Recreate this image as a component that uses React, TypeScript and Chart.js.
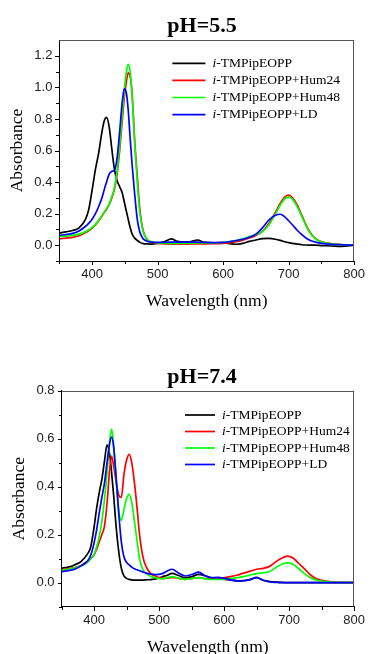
import React, { useEffect, useRef } from 'react';
import { Chart, registerables } from 'chart.js';

Chart.register(...registerables);

// ---------- shared ----------
const seriesLabels = ['i-TMPipEOPP', 'i-TMPipEOPP+Hum24', 'i-TMPipEOPP+Hum48', 'i-TMPipEOPP+LD'];
const seriesColors = ['#000000', '#ff0000', '#00ff00', '#0000ff'];
const xTickValues = [400, 500, 600, 700, 800];
const xMinorTickValues = [350, 450, 550, 650, 750];
const xTitle = 'Wavelength (nm)';
const yTitle = 'Absorbance';

// ---------- panel A : pH 5.5 ----------
const titleA = 'pH=5.5';
const wavelengthA = [350, 360, 370, 380, 390, 395, 400, 405, 410, 415, 419, 422, 426, 430, 434, 438, 442, 446, 449, 452, 455, 458, 461, 465, 469, 473, 478, 484, 490, 500, 510, 521, 530, 541, 550, 561, 571, 585, 600, 620, 630, 640, 650, 660, 670, 680, 687, 694, 700, 706, 713, 720, 730, 740, 750, 765, 780, 800];
const blackA = [0.078, 0.085, 0.093, 0.11, 0.165, 0.23, 0.35, 0.48, 0.585, 0.72, 0.795, 0.81, 0.75, 0.61, 0.48, 0.41, 0.37, 0.33, 0.275, 0.22, 0.165, 0.112, 0.072, 0.045, 0.03, 0.018, 0.01, 0.008, 0.007, 0.012, 0.022, 0.04, 0.025, 0.02, 0.022, 0.033, 0.018, 0.015, 0.015, 0.006, 0.012, 0.024, 0.033, 0.042, 0.043, 0.038, 0.031, 0.022, 0.016, 0.012, 0.007, 0.003, 0.001, 0, -0.002, -0.005, -0.008, 0];
const redA = [0.04, 0.045, 0.05, 0.06, 0.08, 0.093, 0.108, 0.128, 0.155, 0.185, 0.21, 0.228, 0.258, 0.3, 0.355, 0.45, 0.6, 0.79, 0.93, 1.03, 1.092, 1.07, 0.96, 0.66, 0.43, 0.22, 0.09, 0.035, 0.02, 0.012, 0.008, 0.006, 0.006, 0.007, 0.008, 0.009, 0.009, 0.01, 0.012, 0.022, 0.032, 0.046, 0.062, 0.088, 0.14, 0.21, 0.265, 0.305, 0.318, 0.3, 0.255, 0.19, 0.1, 0.045, 0.022, 0.01, 0.004, 0];
const greenA = [0.055, 0.058, 0.062, 0.07, 0.086, 0.098, 0.113, 0.132, 0.158, 0.186, 0.212, 0.232, 0.262, 0.305, 0.365, 0.47, 0.63, 0.83, 0.98, 1.09, 1.145, 1.1, 0.95, 0.64, 0.39, 0.2, 0.085, 0.038, 0.022, 0.015, 0.012, 0.012, 0.012, 0.012, 0.013, 0.014, 0.014, 0.015, 0.018, 0.03, 0.04, 0.055, 0.066, 0.086, 0.13, 0.2, 0.253, 0.293, 0.306, 0.29, 0.245, 0.183, 0.095, 0.043, 0.02, 0.009, 0.004, 0];
const blueA = [0.063, 0.068, 0.075, 0.09, 0.12, 0.14, 0.165, 0.2, 0.245, 0.3, 0.36, 0.4, 0.45, 0.468, 0.475, 0.55, 0.72, 0.91, 0.99, 0.97, 0.86, 0.68, 0.51, 0.32, 0.16, 0.08, 0.04, 0.025, 0.02, 0.018, 0.018, 0.02, 0.02, 0.02, 0.02, 0.02, 0.018, 0.017, 0.018, 0.03, 0.038, 0.05, 0.07, 0.11, 0.16, 0.19, 0.196, 0.18, 0.155, 0.128, 0.095, 0.068, 0.036, 0.02, 0.012, 0.006, 0.003, 0];
const yTickValuesA = [0, 0.2, 0.4, 0.6, 0.8, 1.0, 1.2];
const yMinorTickValuesA = [-0.1, 0.1, 0.3, 0.5, 0.7, 0.9, 1.1];

// ---------- panel B : pH 7.4 ----------
const titleB = 'pH=7.4';
const wavelengthB = [350, 360, 370, 380, 390, 395, 400, 404, 408, 412, 416, 420, 424, 427, 430, 434, 438, 442, 446, 450, 454, 458, 462, 466, 470, 475, 480, 487, 495, 505, 512, 520, 530, 540, 550, 561, 570, 580, 590, 601, 610, 621, 630, 640, 650, 660, 670, 682, 690, 698, 706, 715, 724, 733, 742, 750, 765, 780, 800];
const blackB = [0.06, 0.065, 0.074, 0.088, 0.12, 0.15, 0.23, 0.31, 0.375, 0.43, 0.505, 0.574, 0.535, 0.46, 0.37, 0.233, 0.13, 0.06, 0.028, 0.018, 0.014, 0.012, 0.011, 0.011, 0.011, 0.011, 0.012, 0.013, 0.016, 0.025, 0.03, 0.039, 0.03, 0.02, 0.025, 0.035, 0.03, 0.02, 0.016, 0.014, 0.011, 0.008, 0.009, 0.013, 0.021, 0.01, 0.005, 0.002, 0.001, 0, 0, 0, 0, 0, 0, 0, 0, 0, 0];
const redB = [0.055, 0.058, 0.063, 0.072, 0.09, 0.1, 0.115, 0.14, 0.17, 0.2, 0.235, 0.33, 0.47, 0.528, 0.49, 0.42, 0.365, 0.355, 0.45, 0.51, 0.535, 0.5, 0.42, 0.317, 0.2, 0.11, 0.067, 0.039, 0.027, 0.018, 0.019, 0.022, 0.018, 0.014, 0.017, 0.021, 0.017, 0.015, 0.018, 0.021, 0.025, 0.032, 0.04, 0.048, 0.056, 0.06, 0.068, 0.092, 0.104, 0.111, 0.103, 0.08, 0.057, 0.032, 0.016, 0.01, 0.004, 0.001, 0];
const greenB = [0.052, 0.056, 0.062, 0.07, 0.085, 0.1, 0.118, 0.15, 0.19, 0.255, 0.344, 0.46, 0.59, 0.64, 0.58, 0.43, 0.3, 0.26, 0.305, 0.35, 0.368, 0.335, 0.26, 0.178, 0.1, 0.055, 0.039, 0.027, 0.02, 0.016, 0.02, 0.025, 0.019, 0.014, 0.017, 0.021, 0.017, 0.014, 0.014, 0.015, 0.017, 0.021, 0.025, 0.032, 0.038, 0.041, 0.047, 0.067, 0.078, 0.083, 0.077, 0.058, 0.037, 0.021, 0.011, 0.007, 0.003, 0.001, 0];
const blueB = [0.046, 0.05, 0.056, 0.07, 0.09, 0.115, 0.165, 0.22, 0.29, 0.355, 0.414, 0.5, 0.58, 0.607, 0.57, 0.44, 0.29, 0.17, 0.108, 0.085, 0.074, 0.065, 0.058, 0.054, 0.05, 0.045, 0.04, 0.036, 0.034, 0.038, 0.048, 0.056, 0.04, 0.028, 0.034, 0.044, 0.03, 0.021, 0.022, 0.018, 0.012, 0.007, 0.008, 0.013, 0.022, 0.01, 0.003, 0.001, 0, 0, 0, 0, 0, 0, 0, 0, 0, 0, 0];
const yTickValuesB = [0, 0.2, 0.4, 0.6, 0.8];
const yMinorTickValuesB = [-0.1, 0.1, 0.3, 0.5, 0.7];

// ---------- decoration plugin (frame, tick marks, title, legend) ----------
const decorPlugin = {
  id: 'decor',
  afterDraw(chart: any, _args: any, opts: any) {
    const { ctx, chartArea: a, scales } = chart;
    const xs = scales.x;
    const ys = scales.y;
    ctx.save();
    // top/right frame
    ctx.strokeStyle = '#555';
    ctx.lineWidth = 1;
    ctx.beginPath();
    ctx.moveTo(a.left, Math.round(a.top) + 0.5);
    ctx.lineTo(a.right, Math.round(a.top) + 0.5);
    ctx.moveTo(Math.round(a.right) - 0.5, a.top);
    ctx.lineTo(Math.round(a.right) - 0.5, a.bottom);
    ctx.stroke();
    // tick marks
    ctx.strokeStyle = '#000';
    ctx.beginPath();
    const bx = Math.round(a.bottom);
    const lx = Math.round(a.left);
    xTickValues.forEach((v) => {
      const p = Math.round(xs.getPixelForValue(v)) + 0.5;
      ctx.moveTo(p, bx); ctx.lineTo(p, bx + 4);
    });
    xMinorTickValues.forEach((v) => {
      const p = Math.round(xs.getPixelForValue(v)) + 0.5;
      ctx.moveTo(p, bx); ctx.lineTo(p, bx + 3);
    });
    opts.yMajor.forEach((v: number) => {
      const p = Math.round(ys.getPixelForValue(v)) + 0.5;
      ctx.moveTo(lx, p); ctx.lineTo(lx - 4, p);
    });
    opts.yMinor.forEach((v: number) => {
      const p = Math.round(ys.getPixelForValue(v)) + 0.5;
      ctx.moveTo(lx, p); ctx.lineTo(lx - 3, p);
    });
    ctx.stroke();
    // title
    ctx.fillStyle = '#000';
    ctx.font = 'bold 22px "Liberation Serif"';
    ctx.textAlign = 'center';
    ctx.textBaseline = 'alphabetic';
    ctx.fillText(opts.title, opts.titleX, a.top - opts.titleRise);
    // legend
    ctx.textBaseline = 'middle';
    ctx.textAlign = 'left';
    const lg = opts.legend;
    seriesLabels.forEach((label, i) => {
      const yy = a.top + lg.y + i * lg.dy;
      const x0 = a.left + lg.x;
      ctx.strokeStyle = seriesColors[i];
      ctx.lineWidth = 1.7;
      ctx.beginPath();
      ctx.moveTo(x0, yy);
      ctx.lineTo(x0 + lg.len, yy);
      ctx.stroke();
      let tx = x0 + lg.len + lg.gap;
      ctx.fillStyle = '#000';
      const italic = label.slice(0, 1);
      const rest = label.slice(1);
      ctx.font = 'italic 13.5px "Liberation Serif"';
      ctx.fillText(italic, tx, yy);
      tx += ctx.measureText(italic).width;
      ctx.font = '13.5px "Liberation Serif"';
      ctx.fillText(rest, tx, yy);
    });
    ctx.restore();
  },
};

type PanelProps = {
  top: number;
  height: number;
  title: string;
  wavelength: number[];
  series: number[][];
  yMin: number;
  yMax: number;
  yTicks: number[];
  yMinor: number[];
  padding: { top: number; right: number; bottom: number; left: number };
  yWidth: number;
  xHeight: number;
  yTitlePad: number;
  titleX: number;
  titleRise: number;
  legend: { x: number; y: number; dy: number; len: number; gap: number };
};

function Panel(p: PanelProps) {
  const ref = useRef<HTMLCanvasElement | null>(null);
  useEffect(() => {
    if (!ref.current) return;
    const datasets = p.series.map((vals, i) => ({
      label: seriesLabels[i],
      data: p.wavelength.map((w, j) => ({ x: w, y: vals[j] })),
      borderColor: seriesColors[i],
      borderWidth: 1.7,
      pointRadius: 0,
      fill: false,
      cubicInterpolationMode: 'monotone' as const,
      order: 4 - i,
    }));
    const chart = new Chart(ref.current, {
      type: 'line',
      data: { datasets },
      options: {
        animation: false,
        responsive: false,
        layout: { padding: p.padding },
        plugins: {
          legend: { display: false },
          title: { display: false },
          tooltip: { enabled: false },
          decor: {
            title: p.title,
            titleX: p.titleX,
            titleRise: p.titleRise,
            yMajor: p.yTicks,
            yMinor: p.yMinor,
            legend: p.legend,
          },
        } as any,
        scales: {
          x: {
            type: 'linear',
            min: 350,
            max: 800,
            grid: { display: false, drawTicks: false },
            border: { display: true, color: '#000', width: 1 },
            afterBuildTicks: (s: any) => { s.ticks = xTickValues.map((v) => ({ value: v })); },
            afterFit: (s: any) => { s.height = p.xHeight; },
            ticks: {
              padding: 6,
              color: '#222',
              font: { family: '"Liberation Sans"', size: 13 },
              maxRotation: 0,
              callback: (v: any) => String(v),
            },
            title: {
              display: true,
              text: xTitle,
              color: '#000',
              padding: { top: 0, bottom: 0 },
              font: { family: '"Liberation Serif"', size: 17.5 },
            },
          },
          y: {
            type: 'linear',
            min: p.yMin,
            max: p.yMax,
            grid: { display: false, drawTicks: false },
            border: { display: true, color: '#000', width: 1 },
            afterBuildTicks: (s: any) => { s.ticks = p.yTicks.map((v) => ({ value: v })); },
            afterFit: (s: any) => { s.width = p.yWidth; },
            ticks: {
              padding: 7,
              color: '#222',
              font: { family: '"Liberation Sans"', size: 13 },
              callback: (v: any) => Number(v).toFixed(1),
            },
            title: {
              display: true,
              text: yTitle,
              color: '#000',
              padding: { top: p.yTitlePad, bottom: 0 },
              font: { family: '"Liberation Serif"', size: 17.5 },
            },
          },
        },
      },
      plugins: [decorPlugin],
    });
    return () => chart.destroy();
  }, []);
  return (
    <canvas
      ref={ref}
      width={371}
      height={p.height}
      style={{ position: 'absolute', left: 0, top: p.top, width: 371, height: p.height }}
    />
  );
}

export default function App() {
  return (
    <div style={{ position: 'fixed', left: 0, top: 0, width: 371, height: 654, overflow: 'hidden', background: '#fff' }}>
      <Panel
        top={0}
        height={330}
        title={titleA}
        wavelength={wavelengthA}
        series={[blackA, redA, greenA, blueA]}
        yMin={-0.1}
        yMax={1.3}
        yTicks={yTickValuesA}
        yMinor={yMinorTickValuesA}
        padding={{ top: 40, right: 11.7, bottom: 17.8, left: 0 }}
        yWidth={59.4}
        xHeight={51.2}
        yTitlePad={7}
        titleX={202}
        titleRise={8.3}
        legend={{ x: 113, y: 23.3, dy: 17.1, len: 33, gap: 7 }}
      />
      <Panel
        top={327}
        height={333}
        title={titleB}
        wavelength={wavelengthB}
        series={[blackB, redB, greenB, blueB]}
        yMin={-0.1}
        yMax={0.8}
        yTicks={yTickValuesB}
        yMinor={yMinorTickValuesB}
        padding={{ top: 63.7, right: 14, bottom: 1.8, left: 0 }}
        yWidth={61.5}
        xHeight={51.5}
        yTitlePad={8.5}
        titleX={202}
        titleRise={7.4}
        legend={{ x: 123.5, y: 24.3, dy: 16.5, len: 30, gap: 7 }}
      />
    </div>
  );
}
